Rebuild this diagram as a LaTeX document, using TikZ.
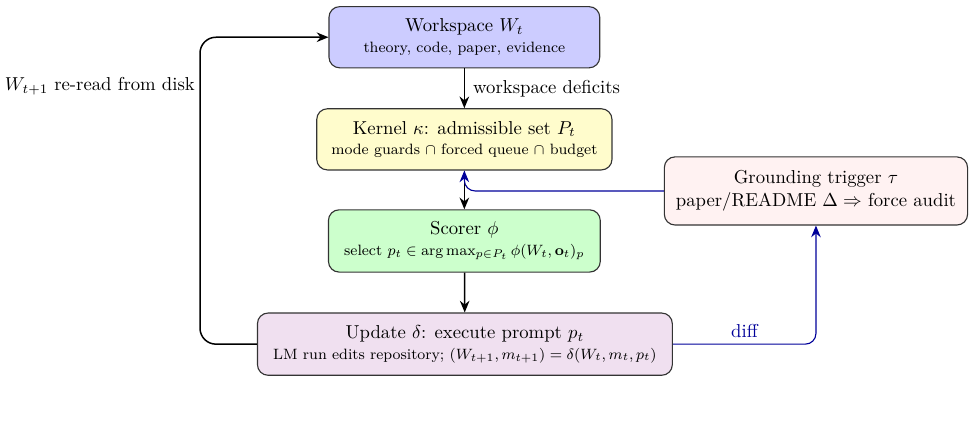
\documentclass[tikz,border=0pt]{standalone}
\usepackage{amsmath}
\usetikzlibrary{arrows.meta}

\tikzset{
    stagebox/.style={draw=black!80, semithick, rounded corners=2mm, align=center,
        minimum height=1.15cm, inner sep=3pt},
    flow/.style={-{Stealth[length=2.2mm,width=1.8mm]}, thick},
    trigflow/.style={-{Stealth[length=2.2mm,width=1.8mm]}, semithick, blue!60!black, rounded corners=2mm}
}

\begin{document}
\begin{tikzpicture}
    \useasboundingbox (0,0) rectangle (18.33,-8.06);

    % The loop stages
    \node[stagebox, fill=blue!20, minimum width=5.09cm] (ws) at (8.73,-0.70)
        {Workspace $W_t$\\[-1pt] {\footnotesize theory, code, paper, evidence}};
    \node[stagebox, fill=yellow!20, minimum width=5.55cm] (kern) at (8.73,-2.62)
        {Kernel $\kappa$: admissible set $P_t$\\[-1pt] {\footnotesize mode guards $\cap$ forced queue $\cap$ budget}};
    \node[stagebox, fill=green!20, minimum width=5.11cm, minimum height=1.17cm] (scor) at (8.73,-4.53)
        {Scorer $\phi$\\[-1pt] {\footnotesize select $p_t \in \arg\max_{p \in P_t} \phi(W_t, \mathbf{o}_t)_p$}};
    \node[stagebox, fill=violet!12, minimum width=7.8cm, minimum height=1.17cm] (upd) at (8.74,-6.47)
        {Update $\delta$: execute prompt $p_t$\\[-1pt] {\footnotesize LM run edits repository; $(W_{t+1}, m_{t+1}) = \delta(W_t, m_t, p_t)$}};

    % Grounding trigger on the side
    \node[stagebox, fill=red!5, minimum width=5.7cm, minimum height=1.28cm] (grd) at (15.34,-3.59)
        {Grounding trigger $\tau$\\ paper/README $\Delta \Rightarrow$ force audit};

    % Main flow
    \draw[flow] (ws) -- node[right, xshift=1pt] {workspace deficits} (kern);
    \draw[flow] (kern) -- (scor);
    \draw[flow] (scor) -- (upd);

    % Feedback loop back to the workspace
    \draw[flow, rounded corners=3mm] (upd.west) -- (3.76,-6.47) -- (3.76,-0.70) -- (ws.west);
    \node[anchor=east, inner sep=0pt] (reread) at (3.67,-1.62) {$W_{t+1}$ re-read from disk};

    % Grounding path
    \draw[trigflow] (upd.east) -- node[above, pos=0.5] {diff} (grd.south |- upd.east) -- (grd.south);
    \draw[trigflow] (grd.west) -- (kern.south |- grd.west) -- (kern.south);

\end{tikzpicture}
\end{document}
